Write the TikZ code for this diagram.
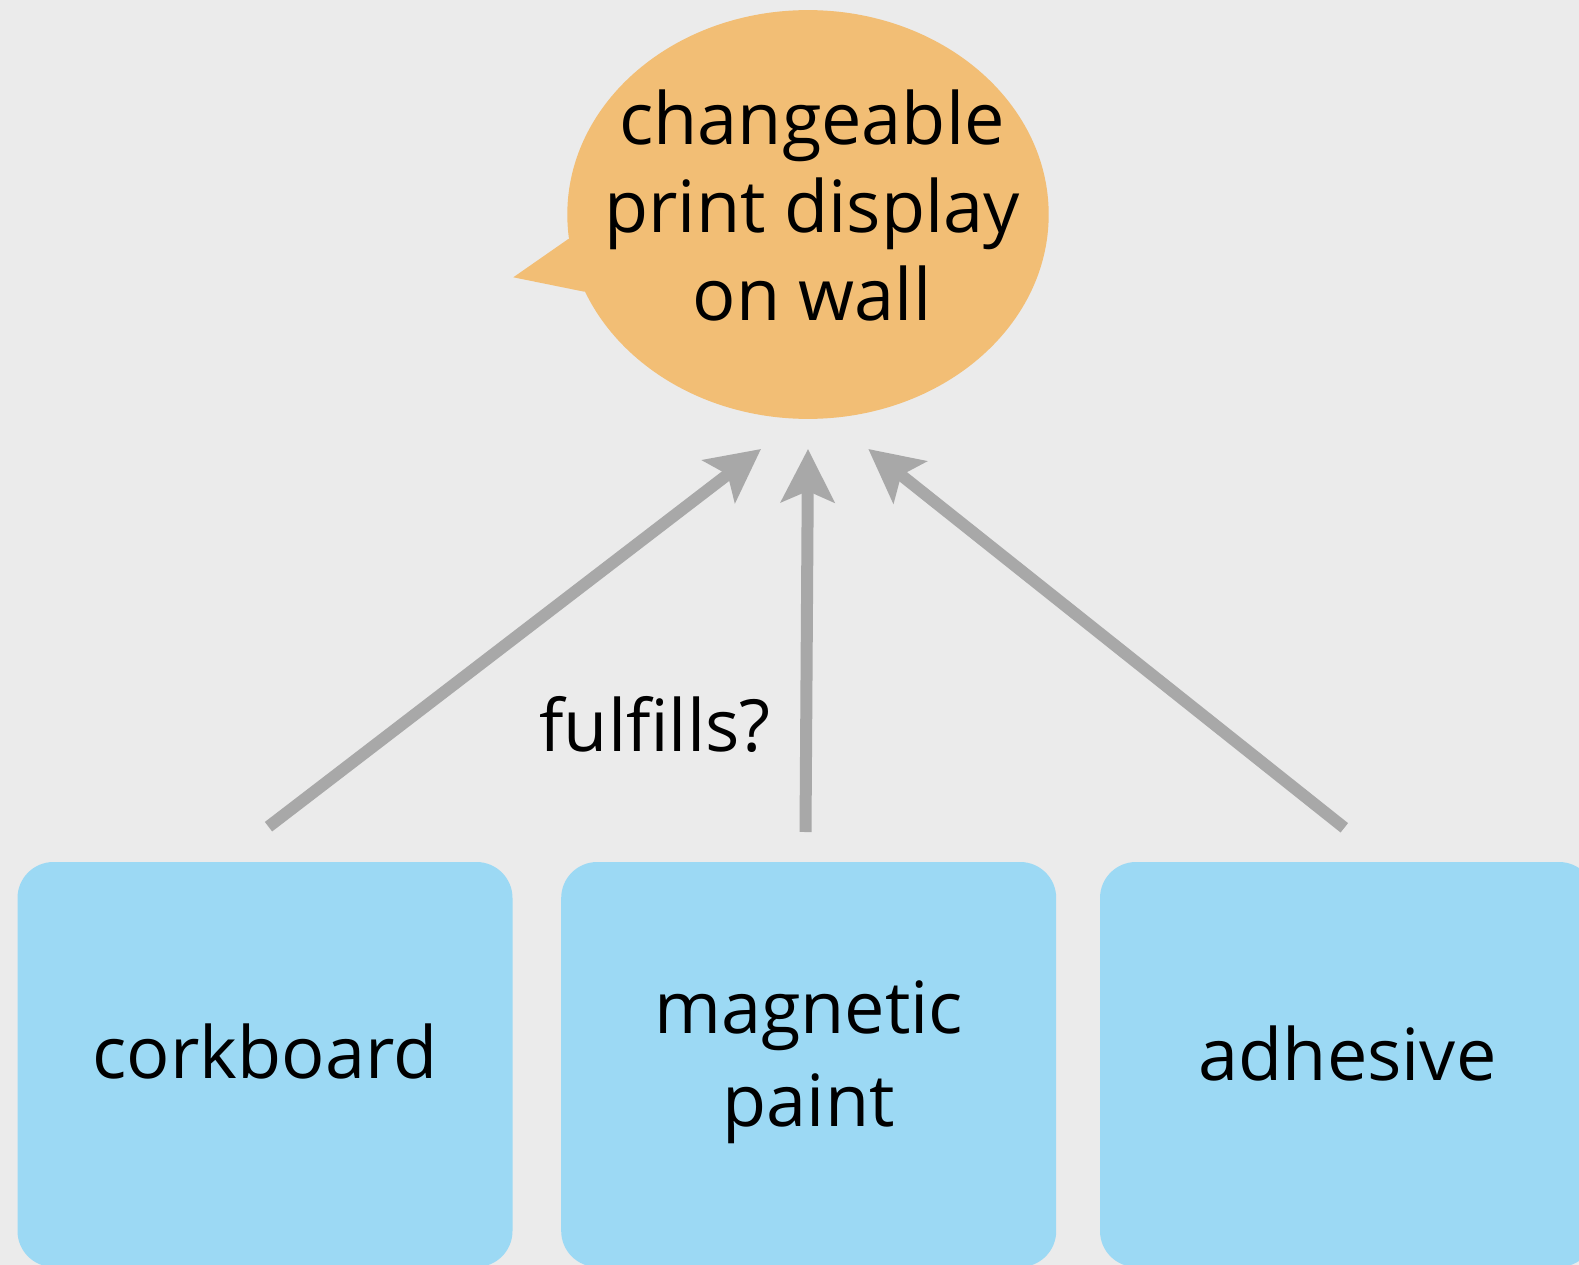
\documentclass[tikz,border=0pt]{standalone}
\usepackage{fontspec}
\setmainfont{Open Sans}
\usetikzlibrary{arrows.meta,shapes.geometric}

\definecolor{canvas}{RGB}{235,235,235}
\definecolor{bubblefill}{RGB}{242,190,117}
\definecolor{optionfill}{RGB}{156,217,244}
\definecolor{linkgray}{RGB}{168,168,168}

\begin{document}
\begin{tikzpicture}[x=1pt,y=-1pt,
  optionbox/.style={rectangle, fill=optionfill, draw=none, rounded corners=36pt,
    minimum width=495pt, minimum height=405pt, inner sep=0pt},
  txt/.style={font=\fontsize{72}{88}\selectfont, text=black, inner sep=0pt, align=center},
  linkarrow/.style={draw=linkgray, line width=12pt,
    -{Stealth[length=53pt,width=53pt,inset=11pt]}}
]
  % canvas
  \useasboundingbox (0,0) rectangle (1579,1265);
  \fill[canvas] (0,0) rectangle (1579,1265);
  \clip (0,0) rectangle (1579,1265);

  % speech bubble with its tail
  \node[ellipse, fill=bubblefill, draw=none, inner sep=0pt,
        minimum width=481.4pt, minimum height=408.8pt] (goal) at (808,214.5) {};
  \fill[bubblefill] (568.3,239) -- (513.3,277.3) -- (584.3,291.7) -- (640,265) -- cycle;
  \node[txt] (goaltext) at (812,205.5) {changeable\\print display\\on wall};

  % options
  \node[optionbox] (cork)   at (265,1064.5)   {};
  \node[optionbox] (magnet) at (808.7,1064.5) {};
  \node[optionbox] (glue)   at (1347.5,1064.5) {};

  \node[txt, anchor=base] (corktext) at (265,1078) {corkboard};
  \node[txt, font=\fontsize{72}{93}\selectfont] (magnettext) at (808.7,1062.5) {magnetic\\paint};
  \node[txt, anchor=base] (gluetext) at (1347.5,1080) {adhesive};

  % connectors
  \coordinate (corkout)   at (268.5,826.7);
  \coordinate (magnetout) at (805.5,832);
  \coordinate (glueout)   at (1344.3,827.8);
  \coordinate (goalinL) at (761,449);
  \coordinate (goalinM) at (808,449);
  \coordinate (goalinR) at (868.3,449);

  \draw[linkarrow] (corkout) -- (goalinL);
  \draw[linkarrow] (magnetout) -- (goalinM);
  \draw[linkarrow] (glueout) -- (goalinR);

  \node[txt, anchor=base] (question) at (655,751.7) {fulfills?};
\end{tikzpicture}
\end{document}
